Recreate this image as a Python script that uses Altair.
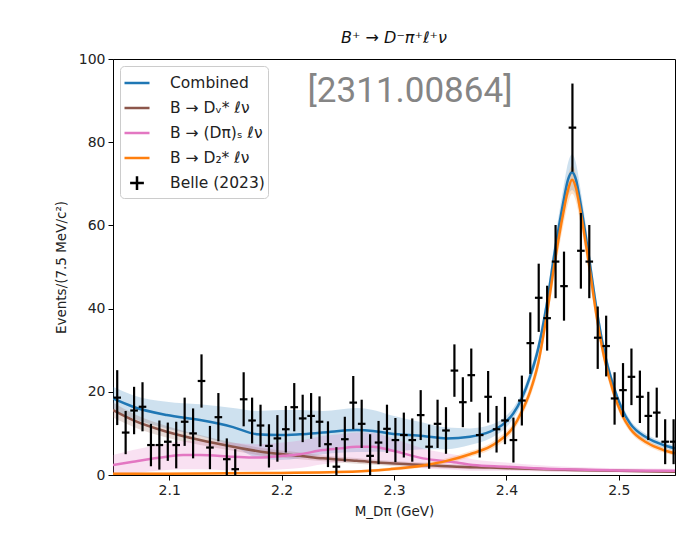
import altair as alt
import pandas as pd

# ---------------- data ----------------
BIN_START = 2.05
BIN_WIDTH = 0.0075

COUNTS = [18.6, 10.2, 15.5, 16.4, 7.2, 7.2, 8.0, 7.2, 12.8, 10.0,
          22.6, 6.6, 13.9, 3.8, 1.4, 18.2, 13.1, 11.9, 7.0, 8.8,
          11.0, 16.3, 13.6, 14.2, 12.8, 7.4, 2.0, 8.6, 17.4, 12.3,
          4.6, 7.8, 11.1, 8.4, 9.6, 8.4, 14.4, 6.8, 12.3, 10.7,
          25.1, 17.5, 24.0, 9.6, 18.8, 11.0, 13.1, 8.4, 17.9, 31.7,
          42.6, 37.7, 51.3, 45.4, 83.5, 53.9, 51.3, 33.0, 31.0, 18.4,
          20.4, 23.6, 18.8, 14.2, 15.0, 8.0, 8.0]
ERRS = [6.6, 5.2, 5.7, 5.9, 5.1, 5.9, 4.6, 5.6, 5.8, 6.0,
        6.4, 5.2, 5.8, 5.0, 4.8, 6.5, 5.5, 5.0, 5.2, 5.6,
        5.6, 5.8, 5.7, 5.5, 6.1, 5.5, 4.7, 5.4, 6.4, 5.8,
        5.2, 5.2, 5.8, 5.3, 5.4, 5.2, 6.0, 5.3, 5.8, 5.6,
        6.3, 6.0, 6.4, 5.4, 6.2, 5.6, 5.7, 5.4, 6.0, 7.4,
        8.2, 7.8, 8.8, 8.3, 10.6, 9.1, 8.8, 7.5, 7.3, 6.3,
        6.5, 6.8, 6.3, 5.8, 6.0, 5.4, 5.4]

COMB_X = [2.05, 2.0678, 2.0978, 2.1274, 2.1568, 2.1779, 2.1986, 2.2164, 2.2368,
          2.2668, 2.2813, 2.2964, 2.3258, 2.3469, 2.3676, 2.3854, 2.3988, 2.4061,
          2.4136, 2.421, 2.4284, 2.4359, 2.4432, 2.4506, 2.4548, 2.4584, 2.4619,
          2.4655, 2.4729, 2.4803, 2.4868, 2.4951, 2.5026, 2.51, 2.5248, 2.5396, 2.55]
COMB_Y = [18.4, 16.4, 14.4, 13.2, 11.5, 9.8, 9.6, 9.8, 10.2,
          10.8, 10.6, 10.0, 9.4, 8.8, 9.2, 10.4, 12.6, 14.8,
          18.4, 23.6, 30.5, 41.0, 54.0, 65.5, 71.0, 72.8, 71.0,
          66.0, 53.3, 39.7, 30.0, 21.5, 16.0, 12.4, 9.0, 7.2, 6.4]
COMB_E = [2.8, 2.8, 3.2, 3.8, 4.6, 5.6, 6.0, 5.8, 5.2,
          5.3, 5.0, 4.4, 3.2, 2.6, 2.0, 1.6, 1.4, 1.3,
          1.3, 1.4, 1.6, 2.0, 2.6, 3.4, 4.0, 4.3, 4.0,
          3.4, 2.6, 2.0, 1.6, 1.2, 1.0, 0.9, 0.8, 0.7, 0.7]

DV_X = [2.05, 2.0678, 2.0978, 2.1274, 2.1568, 2.1868, 2.2164, 2.2368, 2.2668,
        2.2964, 2.3258, 2.3558, 2.3854, 2.42, 2.46, 2.50, 2.55]
DV_Y = [15.6, 13.2, 10.4, 8.4, 6.8, 5.4, 4.6, 4.0, 3.4,
        2.8, 2.4, 2.0, 1.8, 1.5, 1.2, 1.0, 0.8]
DV_E = [1.8, 1.6, 1.4, 1.2, 1.0, 0.9, 0.8, 0.7, 0.7,
        0.6, 0.6, 0.5, 0.5, 0.4, 0.4, 0.3, 0.3]

DS_X = [2.05, 2.0678, 2.0978, 2.1124, 2.1274, 2.1568, 2.1779, 2.2012, 2.2164,
        2.2368, 2.2519, 2.2668, 2.2813, 2.2964, 2.3258, 2.3558, 2.37, 2.40,
        2.42, 2.46, 2.50, 2.55]
DS_Y = [2.4, 3.2, 4.4, 4.8, 4.8, 4.4, 4.2, 4.6, 5.0,
        6.0, 6.4, 6.8, 6.8, 6.0, 4.0, 3.0, 2.4, 2.0,
        1.7, 1.3, 1.1, 1.0]
DS_E = [2.4, 2.8, 3.2, 3.4, 3.4, 3.3, 3.2, 3.2, 3.3,
        3.4, 3.4, 3.4, 3.3, 3.0, 2.4, 1.8, 1.4, 1.0,
        0.8, 0.6, 0.5, 0.5]

D2_X = [2.05, 2.10, 2.15, 2.20, 2.25, 2.2964, 2.3258, 2.3469, 2.3676, 2.3854,
        2.3914, 2.4061, 2.4136, 2.421, 2.4284, 2.4359, 2.4432, 2.4506, 2.4548,
        2.4584, 2.4619, 2.4655, 2.4729, 2.4803, 2.4868, 2.4951, 2.5026, 2.51,
        2.5248, 2.5396, 2.55]
D2_Y = [0.3, 0.3, 0.4, 0.5, 0.7, 1.4, 2.3, 3.4, 5.0, 6.8,
        7.8, 11.5, 15.2, 20.0, 27.0, 38.5, 51.5, 63.0, 68.5,
        71.0, 69.0, 64.0, 51.7, 38.1, 28.5, 20.0, 14.6, 11.2,
        7.8, 6.0, 5.2]
D2_E = [0.3, 0.3, 0.3, 0.3, 0.3, 0.4, 0.5, 0.6, 0.7, 0.8,
        0.9, 1.0, 1.2, 1.4, 1.7, 2.1, 2.6, 3.0, 3.3,
        3.4, 3.3, 3.0, 2.5, 2.0, 1.6, 1.2, 1.0, 0.8,
        0.7, 0.6, 0.6]

SERIES = ["Combined", "B → Dᵥ* ℓν", "B → (Dπ)ₛ ℓν", "B → D₂* ℓν", "Belle (2023)"]
COLORS = ["#1f77b4", "#8c564b", "#e377c2", "#ff7f0e", "black"]
SHAPES = ["stroke", "stroke", "stroke", "stroke", "M-0.55,0H0.55M0,-0.55V0.55"]

X_TICKS = [2.1, 2.2, 2.3, 2.4, 2.5]
Y_TICKS = [0, 20, 40, 60, 80, 100]

# ---------------- tables ----------------
rows = []
for name, xs, ys, es in [(SERIES[0], COMB_X, COMB_Y, COMB_E),
                         (SERIES[1], DV_X, DV_Y, DV_E),
                         (SERIES[2], DS_X, DS_Y, DS_E),
                         (SERIES[3], D2_X, D2_Y, D2_E)]:
    for x, y, e in zip(xs, ys, es):
        rows.append({"x": x, "y": y, "lo": max(0.0, y - e), "hi": y + e, "series": name})
curves = pd.DataFrame(rows)

centers = [BIN_START + BIN_WIDTH * (k + 0.5) for k in range(len(COUNTS))]
pts = pd.DataFrame({
    "x": centers,
    "y": COUNTS,
    "lo": [c - e for c, e in zip(COUNTS, ERRS)],
    "hi": [c + e for c, e in zip(COUNTS, ERRS)],
    "xlo": [c - BIN_WIDTH * 0.45 for c in centers],
    "xhi": [c + BIN_WIDTH * 0.45 for c in centers],
    "series": SERIES[4],
})
legend_df = pd.concat([curves[["x", "y", "series"]], pts[["x", "y", "series"]]])

xscale = alt.Scale(domain=[2.05, 2.55], nice=False, zero=False)
yscale = alt.Scale(domain=[0, 100], nice=False)
cscale = alt.Scale(domain=SERIES, range=COLORS)
sscale = alt.Scale(domain=SERIES, range=SHAPES)

X = alt.X("x:Q", scale=xscale,
          axis=alt.Axis(values=X_TICKS, format=".1f", title="M_Dπ (GeV)"))
Y = alt.Y("y:Q", scale=yscale,
          axis=alt.Axis(values=Y_TICKS, title="Events/(7.5 MeV/c²)"))

base_c = alt.Chart(curves)

bands = base_c.mark_area(opacity=0.22, interpolate="monotone", clip=True).encode(
    x=alt.X("x:Q", scale=xscale),
    y=alt.Y("lo:Q", scale=yscale),
    y2="hi:Q",
    color=alt.Color("series:N", scale=cscale, legend=None),
)

lines = base_c.mark_line(strokeWidth=2.5, interpolate="monotone", clip=True).encode(
    x=X, y=Y,
    color=alt.Color("series:N", scale=cscale, legend=None),
)

base_p = alt.Chart(pts)
vbars = base_p.mark_rule(color="black", strokeWidth=2.2, clip=True).encode(
    x=alt.X("x:Q", scale=xscale),
    y=alt.Y("lo:Q", scale=yscale),
    y2="hi:Q",
)
hbars = base_p.mark_rule(color="black", strokeWidth=2.2, clip=True).encode(
    x=alt.X("xlo:Q", scale=xscale),
    x2="xhi:Q",
    y=alt.Y("y:Q", scale=yscale),
)

LEG = dict(orient="top-left", offset=7, padding=3,
           symbolSize=625, symbolStrokeWidth=2.5, symbolOpacity=1,
           labelFontSize=15.5, labelOffset=19,
           labelFont="DejaVu Sans", labelColor="#222",
           rowPadding=2,
           fillColor="rgba(255,255,255,0.85)",
           strokeColor="#cccccc", cornerRadius=4)

legend_layer = alt.Chart(legend_df).mark_point(
    filled=False, opacity=0, strokeWidth=2.5, clip=True
).encode(
    x=alt.X("x:Q", scale=xscale),
    y=alt.Y("y:Q", scale=yscale),
    color=alt.Color("series:N", scale=cscale, title=None, legend=alt.Legend(**LEG)),
    shape=alt.Shape("series:N", scale=sscale, title=None, legend=alt.Legend(**LEG)),
)

stamp = alt.Chart(pd.DataFrame({"t": ["[2311.00864]"]})).mark_text(
    font="Roboto", fontSize=35, color="#858585", align="center", baseline="middle"
).encode(text="t:N", x=alt.value(297), y=alt.value(32))

chart = alt.layer(bands, lines, vbars, hbars, legend_layer, stamp).resolve_legend(
    color="independent", shape="independent"
).properties(
    width=562, height=416,
    title=alt.TitleParams("B⁺ → D⁻π⁺ℓ⁺ν", font="DejaVu Sans", fontSize=16,
                          fontStyle="italic", fontWeight="normal", color="#111",
                          offset=6),
    autosize=alt.AutoSizeParams(type="none"),
    padding={"left": 105, "top": 51, "right": 9, "bottom": 55},
).configure_view(
    stroke="black", strokeWidth=1
).configure_axis(
    grid=False, domainColor="black", tickColor="black", tickSize=5,
    labelFont="DejaVu Sans", titleFont="DejaVu Sans",
    labelFontSize=14, titleFontSize=13.5, labelColor="#222", titleColor="#222",
    titleFontWeight="normal", labelPadding=3,
).configure_axisY(titlePadding=10).configure_axisX(titlePadding=7)

chart.save("out.html", embed_options={"renderer": "svg", "actions": False})
